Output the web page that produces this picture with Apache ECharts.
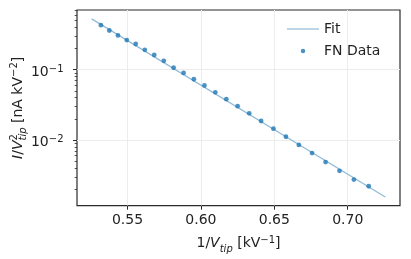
<!DOCTYPE html>
<html><head><meta charset="utf-8">
<script src="https://cdn.jsdelivr.net/npm/echarts@6/dist/echarts.min.js"></script>
<style>html,body{margin:0;padding:0;background:#fff}#c{width:411px;height:259px}</style>
</head><body><div id="c"></div>
<script>
// ---- data ----
const xTicks = [0.55, 0.60, 0.65, 0.70];
const yMajorTicks = [0.01, 0.1];
const yMinorTicks = [0.002,0.003,0.004,0.005,0.006,0.007,0.008,0.009,
                     0.02,0.03,0.04,0.05,0.06,0.07,0.08,0.09,
                     0.2,0.3,0.4,0.5,0.6,0.7];
const xRange = [0.5156, 0.7356];
const yRange = [0.00117, 0.706];
const fnX = [0.5319,0.5376,0.5435,0.5495,0.5556,0.5618,0.5682,0.5747,0.5814,0.5882,0.5952,0.6024,0.6098,
             0.6173,0.6250,0.6329,0.6410,0.6494,0.6579,0.6667,0.6757,0.6849,0.6944,0.7042,0.7143];
const fnY = [0.430,0.361,0.307,0.264,0.232,0.192,0.162,0.134,0.1067,0.0901,0.0733,0.0597,0.0477,
             0.0382,0.0304,0.0240,0.0187,0.01455,0.01117,0.00855,0.00654,0.00488,0.00366,0.00275,0.00221];
const fitX = [0.5256, 0.7256];
const fitY = [0.528, 0.00156];

const FONT = 'DejaVu Sans';
const TXT = '#222';
const mainStyle = {fontFamily: FONT, fontSize: 14, color: TXT, lineHeight: 20, height: 16};
const itStyle = Object.assign({}, mainStyle, {fontStyle: 'italic'});
const subStyle = {fontFamily: FONT, fontSize: 10, color: TXT, fontStyle: 'italic', lineHeight: 20, height: 9, verticalAlign: 'bottom'};
const supStyle = {fontFamily: FONT, fontSize: 10, color: TXT, lineHeight: 20, height: 13, verticalAlign: 'top'};
const sup0Style = Object.assign({}, supStyle, {width: 0});

const chart = echarts.init(document.getElementById('c'), null, {renderer: 'canvas'});
chart.setOption({
  animation: false,
  backgroundColor: '#fff',
  grid: {left: 77, right: 11, top: 10, bottom: 53.3, show: true, borderColor: '#2b2b2b', borderWidth: 1.2,
         backgroundColor: 'transparent', containLabel: false, outerBoundsMode: 'none'},
  legend: {
    orient: 'vertical', left: 287, top: 21, itemWidth: 32, itemHeight: 4.5, itemGap: 6, padding: 0,
    textStyle: {fontFamily: FONT, fontSize: 14, color: TXT, lineHeight: 16},
    data: [{name: 'Fit', icon: 'path://M0,0H32V1.2H0Z'}, {name: 'FN Data', icon: 'circle'}]
  },
  xAxis: {
    type: 'value', min: xRange[0], max: xRange[1],
    name: '{n|1/}{i|V}{sub|tip}{n| [kV}{sup|\u22121}{n|]}',
    nameLocation: 'middle', nameGap: 28, nameMoveOverlap: false,
    nameTextStyle: {rich: {n: mainStyle, i: itStyle, sub: subStyle, sup: supStyle}},
    axisLine: {show: false},
    axisTick: {show: true, customValues: xTicks, length: 4, lineStyle: {color: '#2b2b2b', width: 1}},
    axisLabel: {customValues: xTicks, margin: 8, fontFamily: FONT, fontSize: 14, color: TXT,
                formatter: v => v.toFixed(2)},
    splitLine: {show: true, lineStyle: {color: '#ececec', width: 1}}
  },
  yAxis: [{
    type: 'log', min: yRange[0], max: yRange[1], position: 'left',
    name: '{i|I}{n|/}{i|V}{s0|\u20072}{sub|tip}{n| [nA kV}{sup|\u22122}{n|]}',
    nameLocation: 'middle', nameGap: 49, nameMoveOverlap: false,
    nameTextStyle: {rich: {n: mainStyle, i: itStyle, sub: subStyle, sup: supStyle, s0: sup0Style}},
    axisLine: {show: false},
    axisTick: {show: true, customValues: yMajorTicks, length: 4, lineStyle: {color: '#2b2b2b', width: 1}},
    axisLabel: {customValues: yMajorTicks, margin: 13.5,
      formatter: v => '{b|10}{s|\u2212' + Math.round(-Math.log10(v)) + '}',
      rich: {
        b: {fontFamily: FONT, fontSize: 14, color: TXT, lineHeight: 21, height: 16, verticalAlign: 'bottom'},
        s: {fontFamily: FONT, fontSize: 10, color: TXT, lineHeight: 21, height: 19.4, verticalAlign: 'top'}
      }},
    splitLine: {show: true, lineStyle: {color: '#ececec', width: 1}}
  }, {
    type: 'log', min: yRange[0], max: yRange[1], position: 'left',
    axisLine: {show: false},
    axisTick: {show: true, customValues: yMinorTicks, length: 2.3, lineStyle: {color: '#2b2b2b', width: 0.8}},
    axisLabel: {show: false},
    splitLine: {show: false}
  }],
  series: [{
    name: 'Fit', type: 'line', yAxisIndex: 0, symbol: 'none', z: 2,
    lineStyle: {color: '#8fbbd9', width: 1.2}, itemStyle: {color: '#8fbbd9'},
    data: fitX.map((x, i) => [x, fitY[i]])
  }, {
    name: 'FN Data', type: 'scatter', yAxisIndex: 0, symbolSize: 4.8, z: 3,
    itemStyle: {color: '#1f77b4'},
    data: fnX.map((x, i) => [x, fnY[i]])
  }]
});
</script>
</body></html>
